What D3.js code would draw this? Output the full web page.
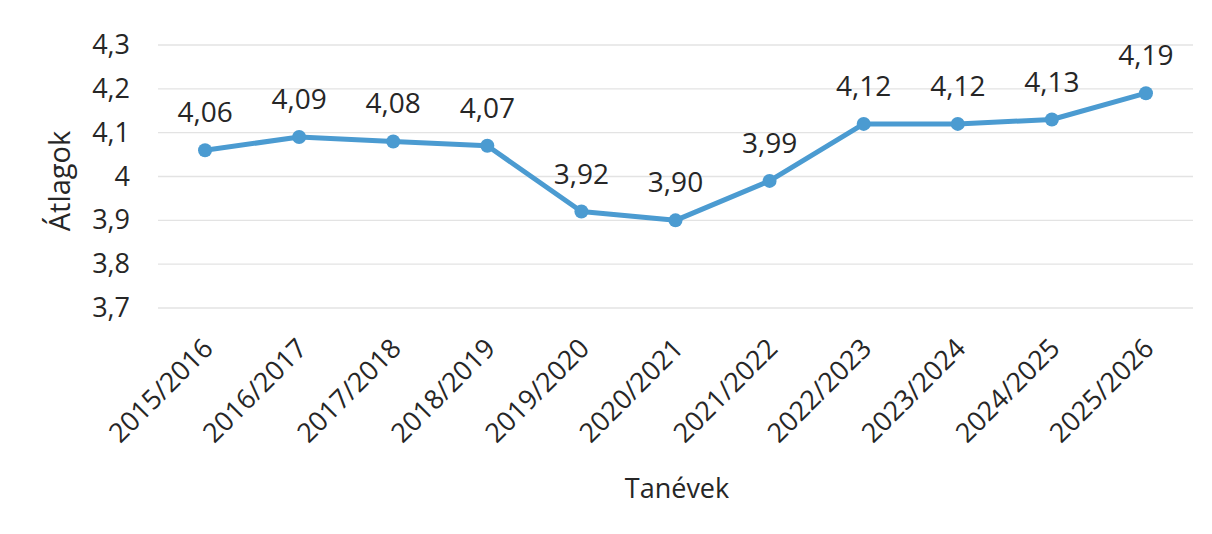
<!DOCTYPE html>
<html>
<head>
<meta charset="utf-8">
<script src="https://cdn.jsdelivr.net/npm/d3@7"></script>
<style>
  body { margin: 0; background: #fff; }
  text { font-family: "Open Sans", sans-serif; fill: #262626; }
</style>
</head>
<body>
<svg></svg>
<script>
// data
let years = ['2015/2016', '2016/2017', '2017/2018', '2018/2019', '2019/2020', '2020/2021',
             '2021/2022', '2022/2023', '2023/2024', '2024/2025', '2025/2026']
let averages = [4.06, 4.09, 4.08, 4.07, 3.92, 3.90, 3.99, 4.12, 4.12, 4.13, 4.19]
let yTicks = [3.7, 3.8, 3.9, 4.0, 4.1, 4.2, 4.3]

let width = 1212
let height = 534
let plotLeft = 158, plotRight = 1193, plotTop = 45, plotBottom = 308

let svg = d3.select('svg').attr('width', width).attr('height', height)

let fmt = (v, d) => v.toFixed(d).replace('.', ',')

let xScale = d3.scalePoint()
               .domain(years)
               .range([plotLeft, plotRight])
               .padding(0.5)

let yScale = d3.scaleLinear()
               .domain([3.7, 4.3])
               .range([plotBottom, plotTop])

// gridlines
svg.append('g')
   .selectAll('line')
   .data(yTicks)
   .enter()
   .append('line')
   .attr('x1', plotLeft)
   .attr('x2', plotRight)
   .attr('y1', d => yScale(d))
   .attr('y2', d => yScale(d))
   .attr('stroke', '#e3e3e3')
   .attr('stroke-width', 1.3)

// y axis labels
let yAxis = d3.axisLeft(yScale)
              .tickValues(yTicks)
              .tickSize(0)
              .tickPadding(28)
              .tickFormat(d => d === 4 ? '4' : fmt(d, 1))
let gy = svg.append('g')
            .attr('transform', 'translate(' + plotLeft + ',0)')
            .call(yAxis)
gy.select('.domain').remove()
gy.selectAll('text')
  .style('font-family', '"Open Sans", sans-serif')
  .style('font-size', '27px')
  .attr('fill', '#262626')

// x axis labels, rotated
let xAxis = d3.axisBottom(xScale).tickSize(0).tickPadding(0)
let gx = svg.append('g')
            .attr('transform', 'translate(0,' + plotBottom + ')')
            .call(xAxis)
gx.select('.domain').remove()
gx.selectAll('text')
  .style('font-family', '"Open Sans", sans-serif')
  .style('font-size', '27px')
  .attr('fill', '#3a3a3a')
  .attr('text-anchor', 'end')
  .attr('dy', 0)
  .attr('y', 0)
  .attr('transform', 'translate(9,42) rotate(-45)')

// line
let line = d3.line()
             .x((d, i) => xScale(years[i]))
             .y(d => yScale(d))

svg.append('path')
   .datum(averages)
   .attr('d', line)
   .attr('fill', 'none')
   .attr('stroke', '#4b9bd1')
   .attr('stroke-width', 5)
   .attr('stroke-linejoin', 'round')

svg.selectAll('circle')
   .data(averages)
   .enter()
   .append('circle')
   .attr('cx', (d, i) => xScale(years[i]))
   .attr('cy', d => yScale(d))
   .attr('r', 7)
   .attr('fill', '#4b9bd1')

// value labels
svg.selectAll('.val')
   .data(averages)
   .enter()
   .append('text')
   .attr('class', 'val')
   .attr('x', (d, i) => xScale(years[i]))
   .attr('y', d => yScale(d) - 28)
   .attr('text-anchor', 'middle')
   .style('font-size', '28px')
   .text(d => fmt(d, 2))

// axis titles
svg.append('text')
   .attr('x', 677)
   .attr('y', 498)
   .attr('text-anchor', 'middle')
   .style('font-size', '27px')
   .text('Tanévek')

svg.append('text')
   .attr('transform', 'translate(70,181) rotate(-90)')
   .attr('text-anchor', 'middle')
   .style('font-size', '29px')
   .text('Átlagok')
</script>
</body>
</html>
